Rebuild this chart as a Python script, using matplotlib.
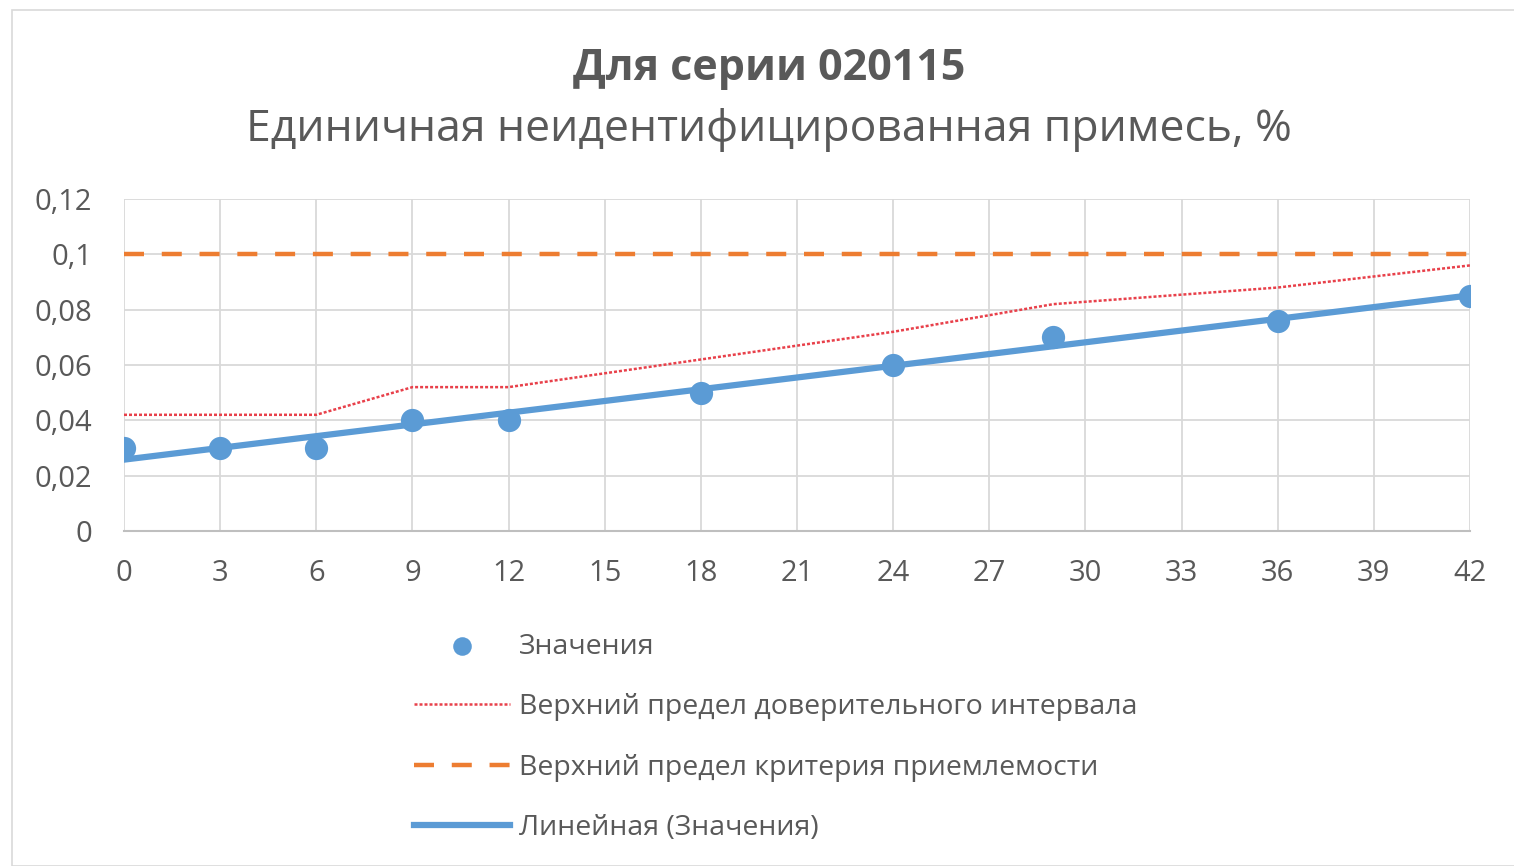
import matplotlib
matplotlib.use("Agg")
import matplotlib.pyplot as plt
from matplotlib.ticker import FuncFormatter, MultipleLocator
from matplotlib.patches import Rectangle
import numpy as np

# data
months = [0, 3, 6, 9, 12, 18, 24, 29, 36, 42]
values = [0.030, 0.030, 0.030, 0.040, 0.040, 0.050, 0.060, 0.070, 0.076, 0.085]
ci_upper = [0.042, 0.042, 0.042, 0.052, 0.052, 0.062, 0.072, 0.082, 0.088, 0.096]
limit_x = [0, 42]
limit_y = [0.1, 0.1]

title = "Для серии 020115"
subtitle = "Единичная неидентифицированная примесь, %"
labels = ["Значения",
          "Верхний предел доверительного интервала",
          "Верхний предел критерия приемлемости",
          "Линейная (Значения)"]

plt.rcParams["font.family"] = ["Open Sans", "DejaVu Sans"]
text_col = "#595959"

fig = plt.figure(figsize=(15.14, 8.66), dpi=100)
fig.patches.append(Rectangle((12 / 1514, 0), 1, 1 - 10 / 866, transform=fig.transFigure,
                             fill=False, edgecolor="#d9d9d9", linewidth=1.2))

ax = fig.add_axes([124 / 1514, 1 - 531 / 866, (1470 - 124) / 1514, (531 - 199) / 866])

# linear trend of the values
k, b = np.polyfit(months, values, 1)
trend_x = np.array([0, 42])

h_pts = ax.scatter(months, values, s=280, color="#5b9bd5", zorder=4, linewidths=0)
h_ci, = ax.plot(months, ci_upper, color="#e8404a", linestyle=(0, (1.2, 0.8)), linewidth=1.8, zorder=3)
h_lim, = ax.plot(limit_x, limit_y, color="#ed7d31", linestyle=(0, (4.5, 4.0)), linewidth=3.2, zorder=3)
h_tr, = ax.plot(trend_x, k * trend_x + b, color="#5b9bd5", linewidth=4.5, zorder=3)

ax.set_xlim(0, 42)
ax.set_ylim(0, 0.12)
ax.xaxis.set_major_locator(MultipleLocator(3))
ax.yaxis.set_major_locator(MultipleLocator(0.02))
ax.yaxis.set_major_formatter(FuncFormatter(lambda v, p: "0" if abs(v) < 1e-9 else f"{v:.2f}".rstrip("0").replace(".", ",")))
ax.grid(True, color="#d9d9d9", linewidth=1.3)
ax.set_axisbelow(True)
for side in ["top", "right", "left"]:
    ax.spines[side].set_visible(False)
ax.spines["bottom"].set_color("#bfbfbf")
ax.spines["bottom"].set_linewidth(1.5)
ax.tick_params(length=0, labelsize=21, colors=text_col)
ax.tick_params(axis="x", pad=20)
ax.tick_params(axis="y", pad=23)

fig.text(0.508, 1 - 68 / 866, title, ha="center", va="center", fontsize=31,
         fontweight="bold", color=text_col)
fig.text(0.508, 1 - 130 / 866, subtitle, ha="center", va="center", fontsize=32,
         color=text_col)

fig.legend([h_pts, h_ci, h_lim, h_tr], labels, loc="upper left",
           bbox_to_anchor=(388 / 1514, 1 - 607 / 866), frameon=False,
           fontsize=20.5, labelcolor=text_col, handlelength=3.4, handletextpad=0.3,
           labelspacing=1.14, markerscale=0.8)

fig.savefig("out.png", dpi=100)
